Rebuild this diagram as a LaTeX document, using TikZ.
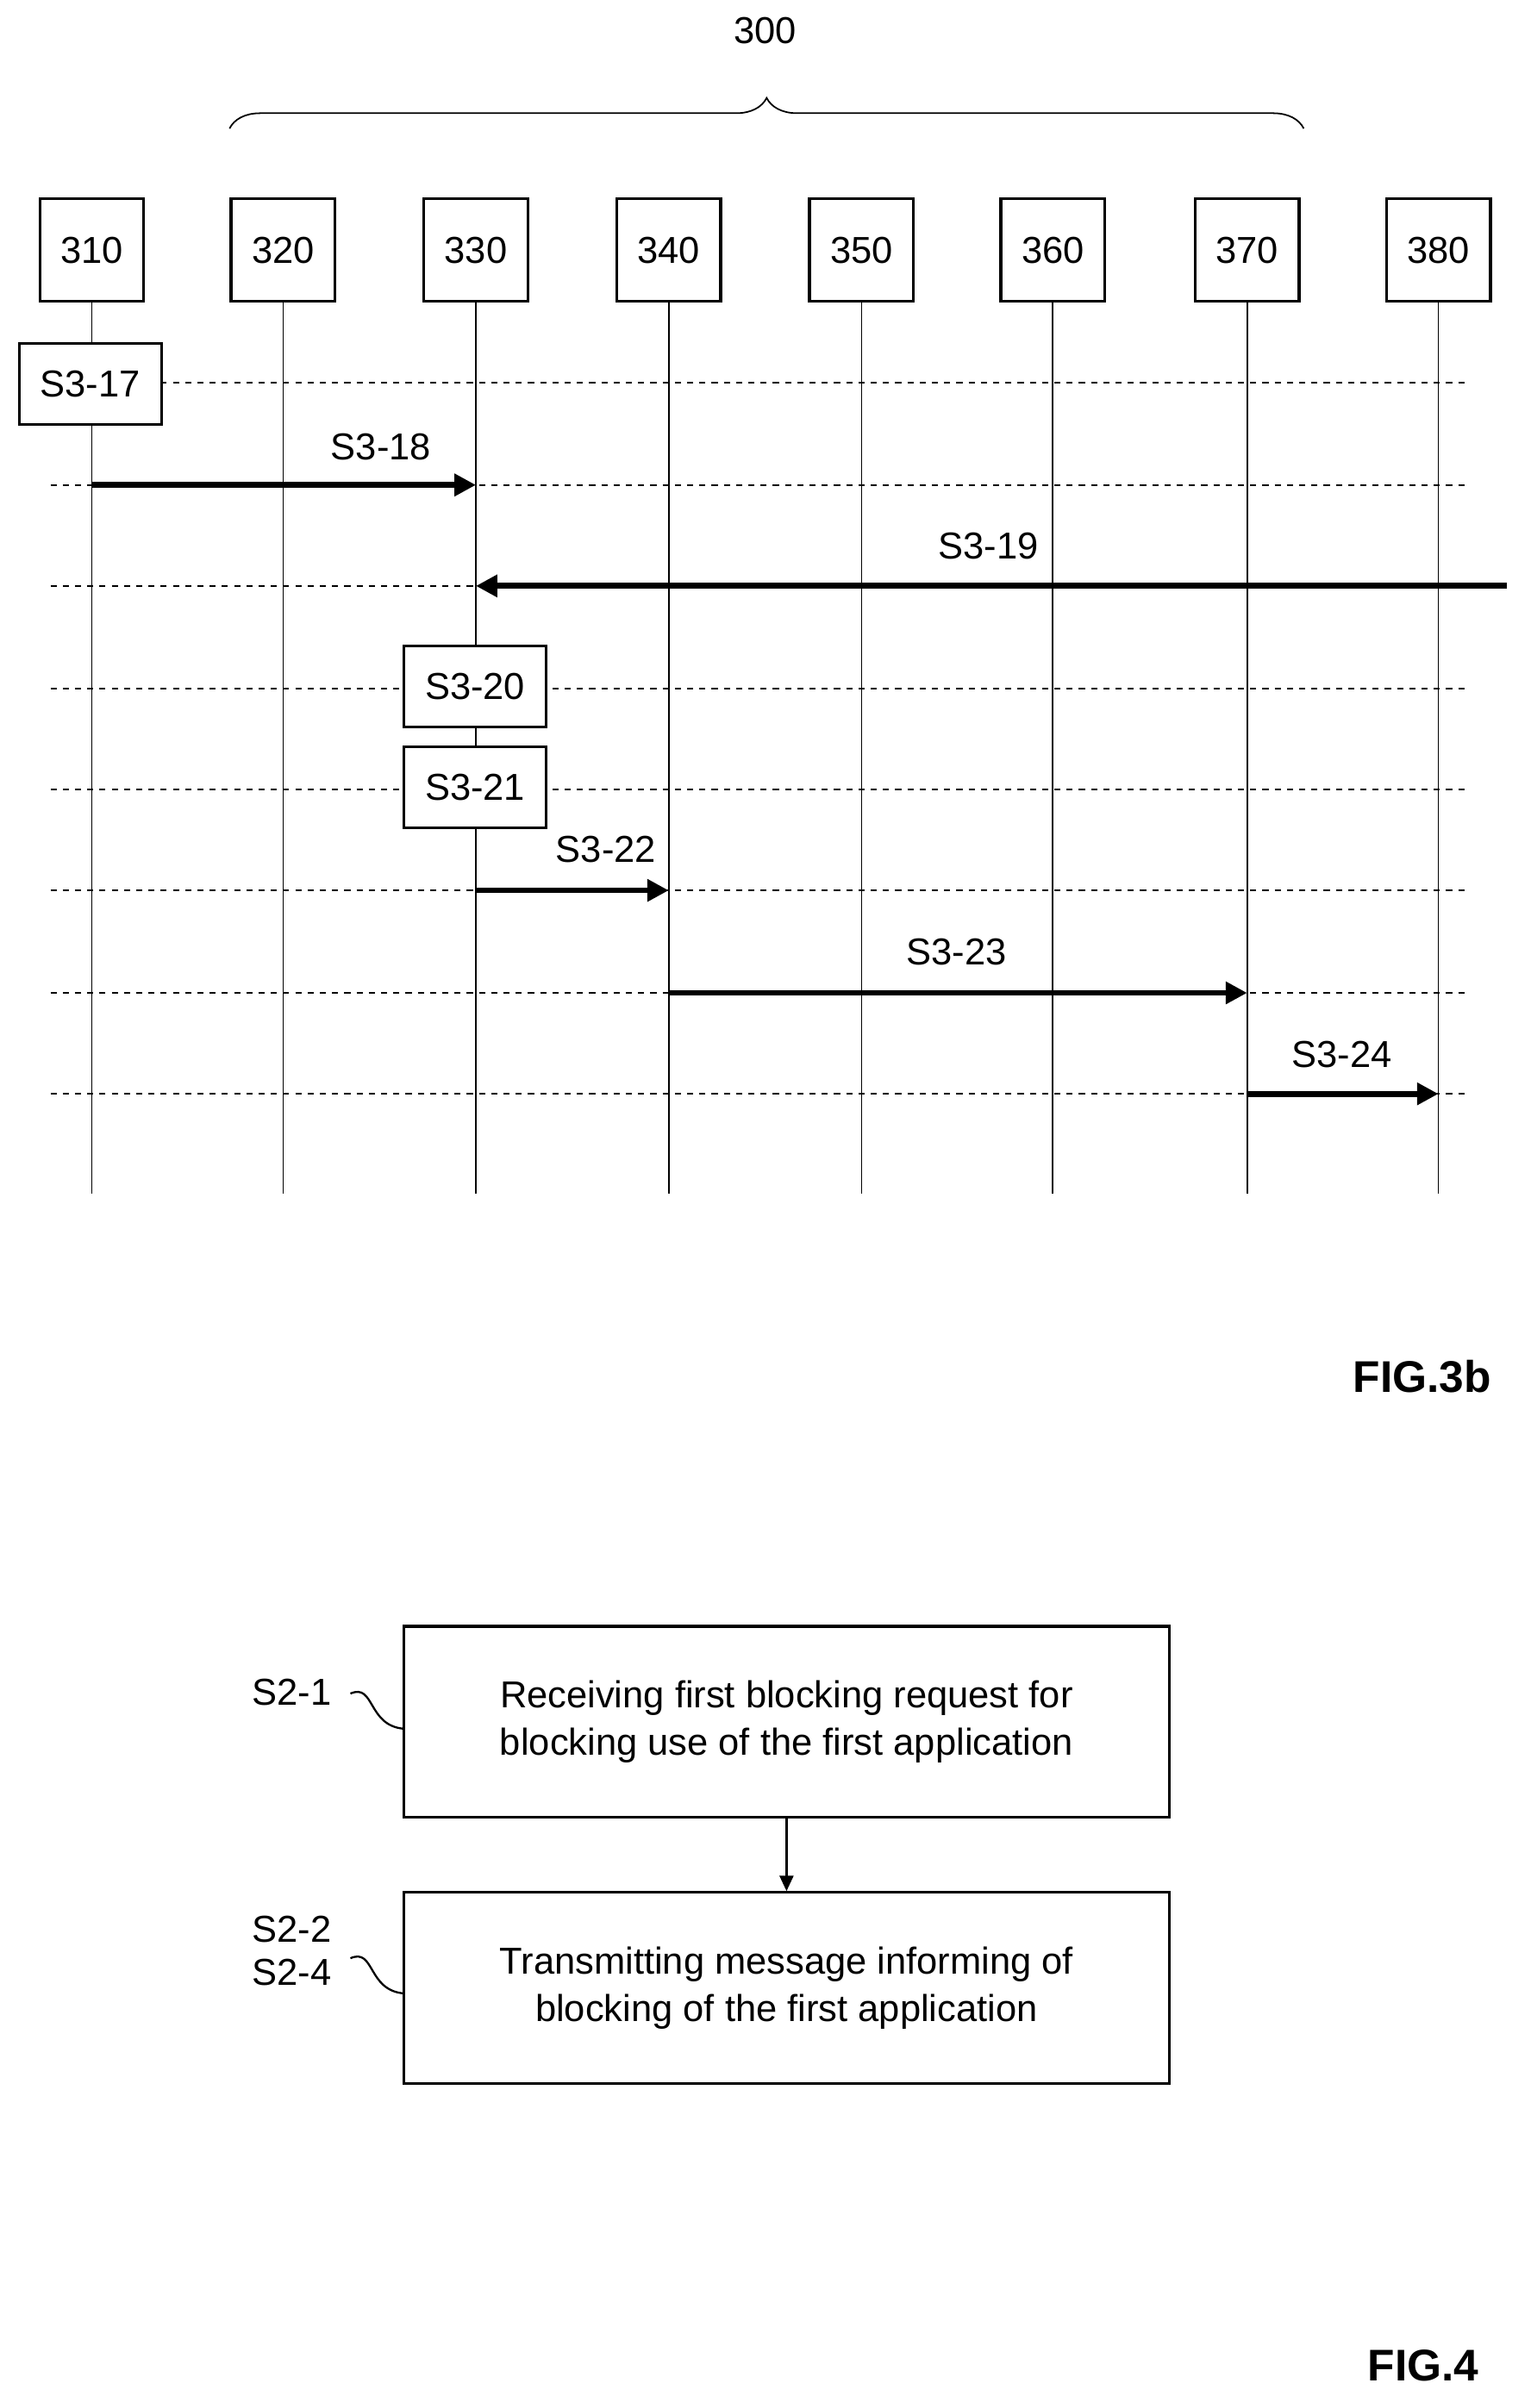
\documentclass[tikz,border=0pt]{standalone}
\usepackage{fontspec}
\setmainfont{Liberation Sans}
\usetikzlibrary{decorations.pathreplacing,arrows.meta}
\begin{document}
\begin{tikzpicture}[x=1pt,y=-1pt,
  txt/.style={font=\fontsize{24.5}{28}\selectfont},
  lbox/.style={draw,line width=1.8pt,minimum width=68pt,minimum height=67pt,txt,fill=white},
  sbox/.style={draw,line width=1.8pt,minimum width=93pt,minimum height=53pt,txt,fill=white},
  fbox/.style={draw,line width=1.8pt,minimum width=500pt,minimum height=125pt,align=center,font=\fontsize{24.5}{31}\selectfont},
  life/.style={line width=1pt},
  dashln/.style={dashed,dash pattern=on 4pt off 4pt,line width=1pt},
  msg/.style={line width=3.8pt,-{Triangle[length=14pt,width=14pt]}},
  fig/.style={font=\fontsize{29}{32}\selectfont\bfseries}]
\useasboundingbox (0,0) rectangle (1000,1574);
\foreach \y in {250,317,383,450,516,582,649,715} \draw[dashln] (33,\y) -- (960,\y);
\foreach \n/\x in {310/60,320/185,330/311,340/437,350/563,360/688,370/815,380/940}{
  \coordinate (e\n) at (\x,780);
  \draw[life] (\x,197) -- (e\n);
  \node[lbox] (l\n) at (\x,163.5) {\n};
}
\draw[decorate,decoration={brace,amplitude=20pt},line width=1pt] (150,84) -- (852,84);
\node[txt] (t300) at (500,20) {300};
\node[sbox] (s17) at (59,251) {S3-17};
\node[sbox] (s20) at (310.5,448.5) {S3-20};
\node[sbox] (s21) at (310.5,514.5) {S3-21};
\coordinate (a18a) at (60,317); \coordinate (a18b) at (311,317);
\draw[msg] (a18a) -- (a18b);
\node[txt] at (249,292) {S3-18};
\coordinate (a19a) at (985,383); \coordinate (a19b) at (311,383);
\draw[msg] (a19a) -- (a19b);
\node[txt] at (646,357) {S3-19};
\coordinate (a22a) at (311,582); \coordinate (a22b) at (437,582);
\draw[msg] (a22a) -- (a22b);
\node[txt] at (396,555) {S3-22};
\coordinate (a23a) at (437,649); \coordinate (a23b) at (815,649);
\draw[msg] (a23a) -- (a23b);
\node[txt] at (625,622) {S3-23};
\coordinate (a24a) at (815,715); \coordinate (a24b) at (940,715);
\draw[msg] (a24a) -- (a24b);
\node[txt] at (877,689) {S3-24};
\node[fig,anchor=east] (f3) at (978,900) {FIG.3b};
\node[fbox] (b1) at (514,1125.5) {Receiving first blocking request for\\blocking use of the first application};
\node[fbox] (b2) at (514,1299.5) {Transmitting message informing of\\blocking of the first application};
\draw[line width=1.3pt,-{Triangle[length=10pt,width=9pt]}] (b1.south) -- (b2.north);
\node[txt,anchor=east] (l1) at (220,1106) {S2-1};
\node[txt,anchor=east,align=right] (l2) at (220,1275) {S2-2\\S2-4};
\draw[line width=1.3pt] (229,1107) .. controls (245,1100) and (240,1128) .. (264,1130);
\draw[line width=1.3pt] (229,1280) .. controls (245,1273) and (240,1301) .. (264,1303);
\node[fig,anchor=east] (f4) at (970,1546) {FIG.4};
\end{tikzpicture}
\end{document}
